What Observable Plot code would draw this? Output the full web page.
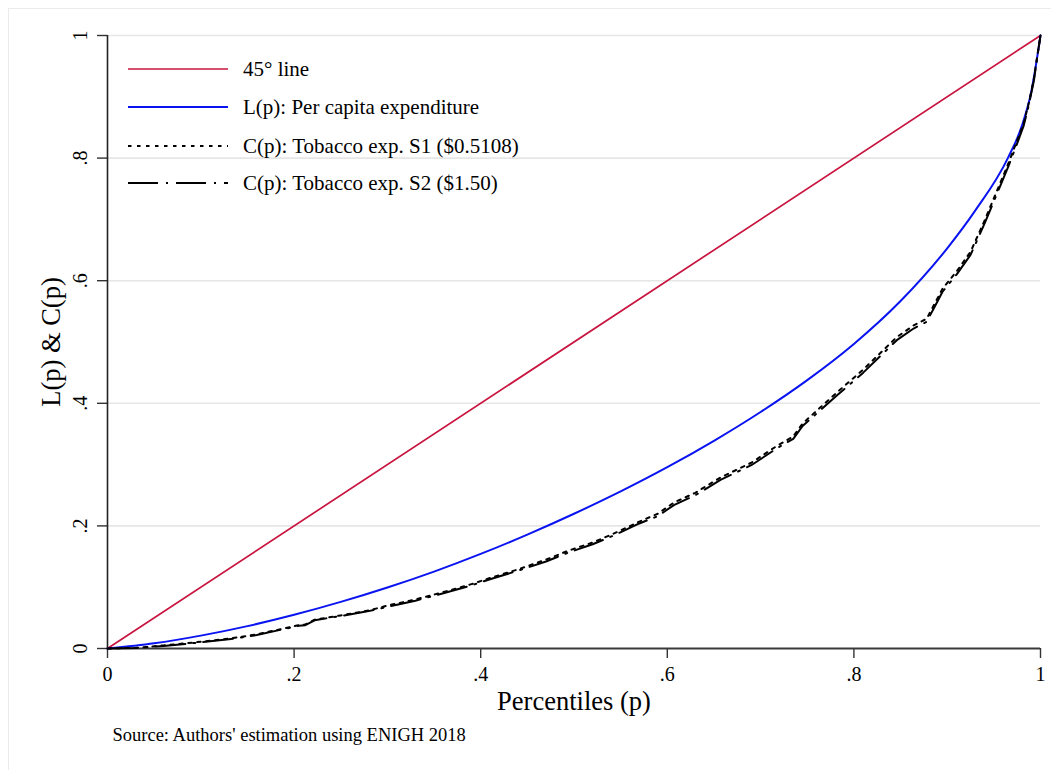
<!DOCTYPE html>
<html>
<head>
<meta charset="utf-8">
<script src="https://cdn.jsdelivr.net/npm/d3@7"></script>
<script src="https://cdn.jsdelivr.net/npm/@observablehq/plot@0.6"></script>
<style>
  html, body { margin: 0; padding: 0; background: #fff; overflow: hidden; }
  #wrap { position: relative; width: 1051px; height: 770px; font-family: "Liberation Serif", "Times New Roman", serif; }
  #frame { position: absolute; left: 8px; top: 8px; width: 1100px; height: 800px; border: 1px solid #ebebeb; box-sizing: border-box; }
  #chart { position: absolute; left: 0; top: 0; }
  #legend { position: absolute; left: 0; top: 0; }
</style>
</head>
<body>
<div id="wrap"><div id="frame"></div><div id="chart"></div><svg id="legend" width="600" height="220"></svg></div>
<script>
// ---- data ----
const xTicks = [0, 0.2, 0.4, 0.6, 0.8, 1];
const yTicks = [0, 0.2, 0.4, 0.6, 0.8, 1];
const tickLabels = ["0", ".2", ".4", ".6", ".8", "1"];

const diagP = [0, 1];
const diagV = [0, 1];

const lorenzP = [0, 0.05, 0.1, 0.15, 0.2, 0.25, 0.3, 0.35, 0.4, 0.45, 0.5, 0.55, 0.6, 0.65, 0.7, 0.75, 0.8, 0.85, 0.9, 0.93, 0.965, 0.98, 0.99, 1];
const lorenzL = [0, 0.0085, 0.021, 0.0365, 0.055, 0.076, 0.0995, 0.1255, 0.1543, 0.1858, 0.2198, 0.2563, 0.2958, 0.3388, 0.3858, 0.4378, 0.4968, 0.5668, 0.6528, 0.7143, 0.8, 0.8525, 0.9075, 1];

const concP  = [0, 0.03, 0.06, 0.1, 0.13, 0.16, 0.19, 0.205, 0.212, 0.222, 0.25, 0.28, 0.3, 0.33, 0.36, 0.39, 0.41, 0.44, 0.47, 0.493, 0.52, 0.542, 0.57, 0.59, 0.607, 0.63, 0.657, 0.69, 0.718, 0.735, 0.745, 0.782, 0.81, 0.846, 0.864, 0.878, 0.886, 0.895, 0.91, 0.925, 0.94, 0.957, 0.966, 0.975, 0.982, 0.9875, 0.993, 0.997, 1];
const concS2 = [0, 0.001, 0.004, 0.010, 0.015, 0.022, 0.032, 0.037, 0.038, 0.046, 0.053, 0.061, 0.068, 0.078, 0.090, 0.103, 0.113, 0.127, 0.142, 0.156, 0.170, 0.184, 0.204, 0.216, 0.234, 0.250, 0.275, 0.299, 0.327, 0.342, 0.363, 0.413, 0.450, 0.503, 0.522, 0.533, 0.556, 0.582, 0.610, 0.642, 0.693, 0.755, 0.788, 0.824, 0.853, 0.887, 0.927, 0.970, 1];
const concS1 = [0, 0.001, 0.005, 0.011, 0.016, 0.023, 0.033, 0.038, 0.039, 0.047, 0.054, 0.062, 0.070, 0.080, 0.092, 0.105, 0.115, 0.129, 0.145, 0.159, 0.173, 0.187, 0.207, 0.220, 0.238, 0.254, 0.279, 0.303, 0.331, 0.346, 0.367, 0.418, 0.455, 0.508, 0.527, 0.538, 0.561, 0.587, 0.615, 0.647, 0.698, 0.760, 0.793, 0.829, 0.857, 0.890, 0.930, 0.971, 1];

const seriesNames = ["45° line", "L(p): Per capita expenditure", "C(p): Tobacco exp. S1 ($0.5108)", "C(p): Tobacco exp. S2 ($1.50)"];
const seriesColors = ["#c8143f", "#0a14f0", "#000000", "#000000"];
const seriesDash = [null, null, "3.5,5.5", "30,8,2,8"];
const seriesWidth = [1.7, 2, 2, 2];

const sourceNote = "Source: Authors' estimation using ENIGH 2018";
const xTitle = "Percentiles (p)";
const yTitle = "L(p) & C(p)";

// ---- build tables ----
const toRows = (ps, vs) => ps.map((p, i) => ({p, v: vs[i]}));
const diag = toRows(diagP, diagV);
const lorenz = toRows(lorenzP, lorenzL);
const s1 = toRows(concP, concS1);
const s2 = toRows(concP, concS2);
const fmt = d => tickLabels[yTicks.indexOf(d)];

const chart = Plot.plot({
  width: 1051,
  height: 770,
  marginLeft: 107,
  marginRight: 11,
  marginTop: 35,
  marginBottom: 122,
  style: {fontFamily: "Liberation Serif, Times New Roman, serif", color: "#000", background: "transparent"},
  x: {domain: [0, 1]},
  y: {domain: [0, 1]},
  marks: [
    Plot.gridY(yTicks.slice(1), {stroke: "#e6e6e6", strokeOpacity: 1, strokeWidth: 1.6}),
    Plot.axisX(xTicks, {tickSize: 10, tickPadding: 8, tickFormat: fmt, fontSize: 20, label: null, stroke: "#333", strokeWidth: 1.4}),
    Plot.axisY(yTicks, {tickSize: 10, tickFormat: () => "", label: null, stroke: "#333", strokeWidth: 1.4}),
    Plot.text(yTicks, {y: d => d, text: fmt, frameAnchor: "left", dx: -21, rotate: -90, lineAnchor: "bottom", textAnchor: "middle", fontSize: 20}),
    Plot.text([yTitle], {text: d => d, frameAnchor: "left", dx: -48, rotate: -90, lineAnchor: "bottom", textAnchor: "middle", fontSize: 26.5}),
    Plot.text([xTitle], {text: d => d, frameAnchor: "bottom", dy: 61, lineAnchor: "bottom", textAnchor: "middle", fontSize: 26.5}),
    Plot.text([sourceNote], {text: d => d, frameAnchor: "bottom-left", dx: 5, dy: 92, lineAnchor: "bottom", textAnchor: "start", fontSize: 18.5}),
    Plot.ruleX([0], {stroke: "#222", strokeWidth: 1.6}),
    Plot.ruleY([0], {stroke: "#3a3a3a", strokeWidth: 2}),
    Plot.line(diag, {x: "p", y: "v", stroke: seriesColors[0], strokeWidth: seriesWidth[0]}),
    Plot.line(lorenz, {x: "p", y: "v", stroke: seriesColors[1], strokeWidth: seriesWidth[1], curve: "monotone-x"}),
    Plot.line(s1, {x: "p", y: "v", stroke: seriesColors[2], strokeWidth: seriesWidth[2], strokeDasharray: seriesDash[2]}),
    Plot.line(s2, {x: "p", y: "v", stroke: seriesColors[3], strokeWidth: seriesWidth[3], strokeDasharray: seriesDash[3]})
  ]
});
document.getElementById("chart").appendChild(chart);

// ---- legend ----
const leg = d3.select("#legend");
const rowY = [69, 107, 146, 183];
seriesNames.forEach((name, i) => {
  const g = leg.append("g");
  g.append("line").attr("x1", 128).attr("x2", 228).attr("y1", rowY[i]).attr("y2", rowY[i])
    .attr("stroke", seriesColors[i]).attr("stroke-width", seriesWidth[i])
    .attr("stroke-dasharray", seriesDash[i]);
  g.append("text").attr("x", 243).attr("y", rowY[i] + 7)
    .attr("font-family", "Liberation Serif, Times New Roman, serif").attr("font-size", 21)
    .attr("fill", "#000").text(name);
});
</script>
</body>
</html>
